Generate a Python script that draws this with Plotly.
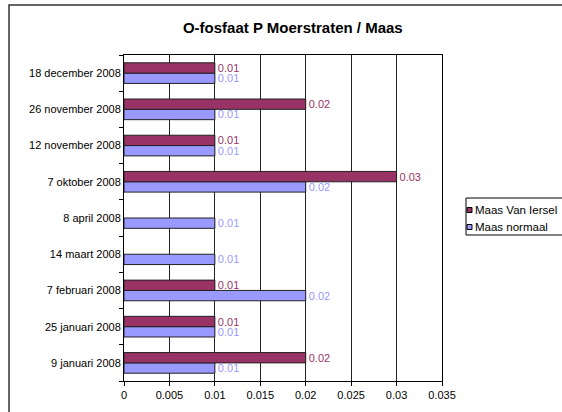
import plotly.graph_objects as go

# categories bottom -> top (plotly draws the first category at the bottom)
datums = ['9 januari 2008', '25 januari 2008', '7 februari 2008', '14 maart 2008',
          '8 april 2008', '7 oktober 2008', '12 november 2008', '26 november 2008',
          '18 december 2008']
maas_van_iersel = [0.02, 0.01, 0.01, None, None, 0.03, 0.01, 0.02, 0.01]
maas_normaal = [0.01, 0.01, 0.02, 0.01, 0.01, 0.02, 0.01, 0.01, 0.01]
xticks = [0, 0.005, 0.01, 0.015, 0.02, 0.025, 0.03, 0.035]

font = 'Arial, Liberation Sans, sans-serif'
maroon = '#993366'
lila = '#9999FF'

fig = go.Figure()
## blue first so the maroon bar sits on top inside each group
fig.add_trace(go.Bar(y=datums, x=maas_normaal, orientation='h', name='Maas normaal',
                     marker=dict(color=lila, line=dict(color='#222', width=1)),
                     text=[f'{v}' if v is not None else '' for v in maas_normaal],
                     textposition='outside', cliponaxis=False, constraintext='none',
                     textfont=dict(color=lila, size=11, family=font)))
fig.add_trace(go.Bar(y=datums, x=maas_van_iersel, orientation='h', name='Maas Van Iersel',
                     marker=dict(color=maroon, line=dict(color='#222', width=1)),
                     text=[f'{v}' if v is not None else '' for v in maas_van_iersel],
                     textposition='outside', cliponaxis=False, constraintext='none',
                     textfont=dict(color=maroon, size=11, family=font)))

fig.update_layout(
    width=562, height=412,
    margin=dict(l=124, r=120, t=55, b=31),
    paper_bgcolor='white', plot_bgcolor='white',
    barmode='group', bargap=0.43, bargroupgap=0,
    font=dict(family=font, size=11, color='black'),
    title=dict(text='<b>O-fosfaat P Moerstraten / Maas</b>', x=0.521, y=0.932,
               xref='container', yref='container', xanchor='center', yanchor='middle',
               font=dict(size=15, family=font, color='black')),
    showlegend=False,
)
fig.update_xaxes(range=[0, 0.035], tickvals=xticks, ticktext=[f'{t:g}' for t in xticks],
                 automargin=False,
                 showgrid=True, gridcolor='#222', gridwidth=1, zeroline=False,
                 showline=True, linecolor='black', linewidth=1, mirror=True,
                 ticks='outside', ticklen=4, tickcolor='black',
                 tickfont=dict(size=11, family=font))
fig.update_yaxes(type='category', showgrid=False, tickson='boundaries', automargin=False,
                 showline=True, linecolor='black', linewidth=1, mirror=True,
                 ticks='outside', ticklen=4, tickcolor='black',
                 tickfont=dict(size=11, family=font))

## outer chart border (runs off the right and bottom edge like in the picture)
fig.add_shape(type='rect', xref='paper', yref='paper', x0=-0.3616, x1=2, y0=-1, y1=1.1534,
              line=dict(color='#333', width=1.5), fillcolor='rgba(0,0,0,0)', layer='below')

## legend drawn by hand: box, small squares, labels
fig.add_shape(type='rect', xref='paper', yref='paper', x0=1.0755, x1=1.5, y0=0.4479, y1=0.5613,
              line=dict(color='black', width=1), fillcolor='white')
legend_items = [('Maas Van Iersel', maroon, 0.5245), ('Maas normaal', lila, 0.4724)]
for naam, kleur, ypos in legend_items:
    fig.add_shape(type='rect', xref='paper', yref='paper', x0=1.0786, x1=1.0943,
                  y0=ypos - 0.0077, y1=ypos + 0.0077,
                  line=dict(color='black', width=1), fillcolor=kleur)
    fig.add_annotation(text=naam, xref='paper', yref='paper', x=1.0975, y=ypos,
                       xanchor='left', yanchor='middle', showarrow=False,
                       font=dict(size=11.5, family=font, color='black'))

## page body has a default 8px margin, drop it so the chart sits at the top-left corner
fig.write_html('out.html', config={'displayModeBar': False},
               post_script="document.body.style.margin='0';")
